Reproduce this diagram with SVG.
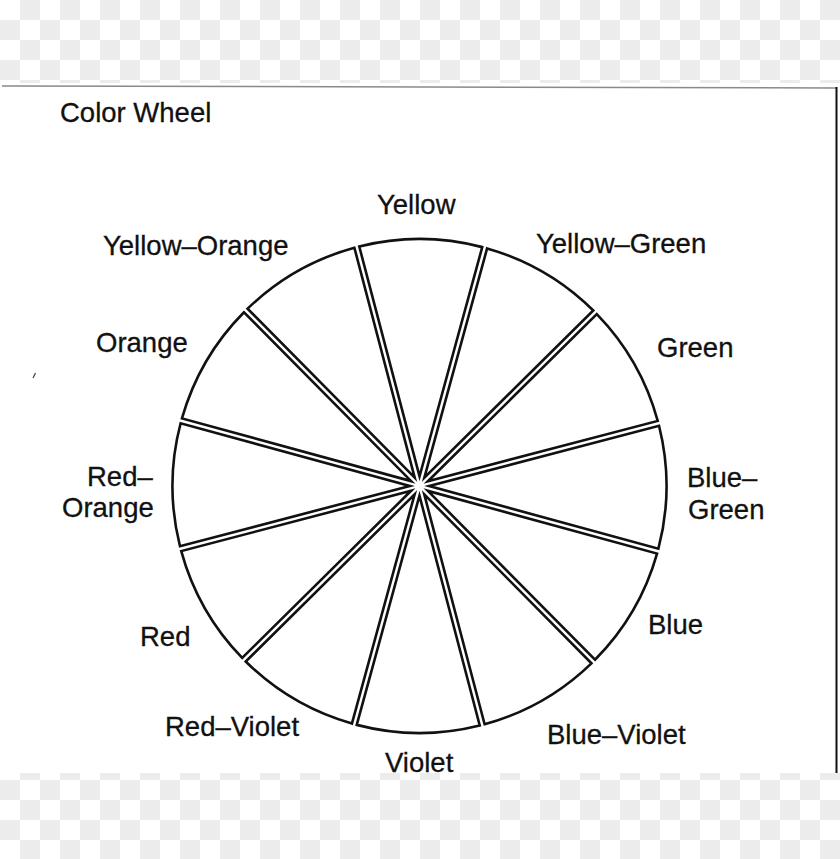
<svg xmlns="http://www.w3.org/2000/svg" xmlns:xlink="http://www.w3.org/1999/xlink" width="840" height="859" viewBox="0 0 840 859">
  <style>
    .lbl { font-family: "Liberation Sans", Arial, Helvetica, sans-serif; font-size: 27.5px; fill: #111; stroke: #111; stroke-width: 0.3; }
    .sector { fill: #fff; stroke: #111; stroke-width: 2.6; stroke-linejoin: miter; }
  </style>
  <defs>
    <pattern id="checker" width="40" height="40" patternUnits="userSpaceOnUse">
      <rect width="40" height="40" fill="#ffffff"/>
      <rect x="20" y="0" width="20" height="20" fill="#ececec"/>
      <rect x="0" y="20" width="20" height="20" fill="#ececec"/>
    </pattern>
    <path id="wedge" d="M 9.66 0 L 239.2 -61.49 A 247 247 0 0 1 239.2 61.49 Z"/>
  </defs>

  <!-- transparent-style background and scanned page -->
  <rect x="0" y="0" width="840" height="859" fill="url(#checker)"/>
  <rect x="0" y="83" width="840" height="690" fill="#ffffff"/>
  <line x1="2" y1="86" x2="836" y2="88" stroke="#8a8a8a" stroke-width="1.5"/>
  <line x1="836.5" y1="87" x2="836.5" y2="773" stroke="#111" stroke-width="2"/>
  <path d="M 33 378 L 35.5 373" stroke="#444" stroke-width="1.2" fill="none"/>

  <text id="title" class="lbl" x="60" y="122">Color Wheel</text>

  <g id="wheel">
    <g id="sector-yellow">
      <use xlink:href="#wedge" class="sector" transform="translate(419.5 486) rotate(-89.7)"/>
      <text class="lbl" x="377" y="214">Yellow</text>
    </g>
    <g id="sector-yellow-green">
      <use xlink:href="#wedge" class="sector" transform="translate(419.5 486) rotate(-59.7)"/>
      <text class="lbl" x="536" y="253">Yellow–Green</text>
    </g>
    <g id="sector-green">
      <use xlink:href="#wedge" class="sector" transform="translate(419.5 486) rotate(-29.7)"/>
      <text class="lbl" x="657" y="357">Green</text>
    </g>
    <g id="sector-blue-green">
      <use xlink:href="#wedge" class="sector" transform="translate(419.5 486) rotate(0.3)"/>
      <text class="lbl" x="687" y="487">Blue–</text>
      <text class="lbl" x="688" y="519">Green</text>
    </g>
    <g id="sector-blue">
      <use xlink:href="#wedge" class="sector" transform="translate(419.5 486) rotate(30.3)"/>
      <text class="lbl" x="648" y="634">Blue</text>
    </g>
    <g id="sector-blue-violet">
      <use xlink:href="#wedge" class="sector" transform="translate(419.5 486) rotate(60.3)"/>
      <text class="lbl" x="547" y="744">Blue–Violet</text>
    </g>
    <g id="sector-violet">
      <use xlink:href="#wedge" class="sector" transform="translate(419.5 486) rotate(90.3)"/>
      <text class="lbl" x="385" y="772">Violet</text>
    </g>
    <g id="sector-red-violet">
      <use xlink:href="#wedge" class="sector" transform="translate(419.5 486) rotate(120.3)"/>
      <text class="lbl" x="165" y="736">Red–Violet</text>
    </g>
    <g id="sector-red">
      <use xlink:href="#wedge" class="sector" transform="translate(419.5 486) rotate(150.3)"/>
      <text class="lbl" x="140" y="646">Red</text>
    </g>
    <g id="sector-red-orange">
      <use xlink:href="#wedge" class="sector" transform="translate(419.5 486) rotate(180.3)"/>
      <text class="lbl" x="87" y="486">Red–</text>
      <text class="lbl" x="62" y="517">Orange</text>
    </g>
    <g id="sector-orange">
      <use xlink:href="#wedge" class="sector" transform="translate(419.5 486) rotate(210.3)"/>
      <text class="lbl" x="96" y="352">Orange</text>
    </g>
    <g id="sector-yellow-orange">
      <use xlink:href="#wedge" class="sector" transform="translate(419.5 486) rotate(240.3)"/>
      <text class="lbl" x="103" y="255">Yellow–Orange</text>
    </g>
  </g>
  <g id="connectors"/>
</svg>
